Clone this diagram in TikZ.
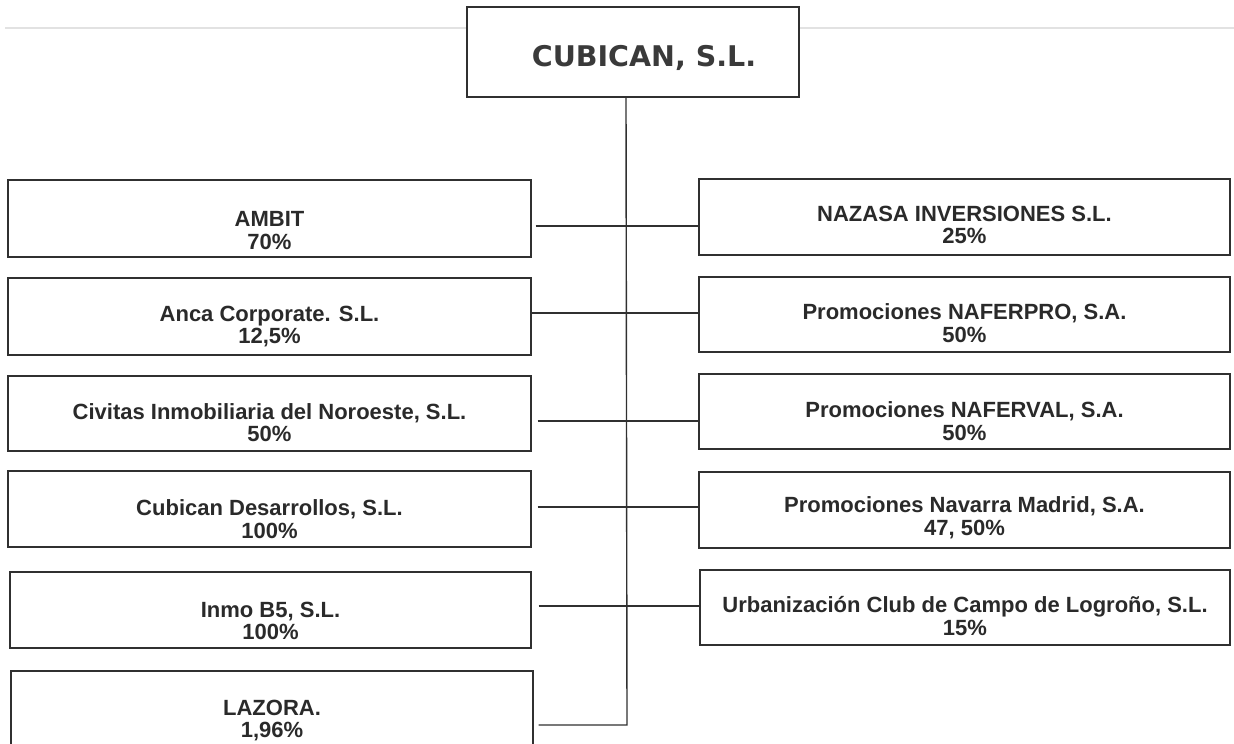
\documentclass[tikz,border=0pt]{standalone}
\usepackage{fontspec}
\setmainfont{Liberation Sans}
\newfontfamily\headfont{DejaVu Sans}
\definecolor{inkc}{HTML}{2A2A2A}
\definecolor{linec}{HTML}{303030}
\definecolor{headc}{HTML}{3A3A3A}
\definecolor{rulec}{HTML}{E2E2E2}
\begin{document}
\begin{tikzpicture}[x=1pt,y=-1pt,
  box/.style={draw=linec, line width=1.4pt, inner sep=0pt, fill=white},
  lbl/.style={align=center, text=inkc, inner sep=0pt, font=\fontsize{22}{22.5}\selectfont\bfseries},
  conn/.style={draw=linec, line width=1.4pt}]
\useasboundingbox (0,0) rectangle (1234,744);
\fill[white] (0,0) rectangle (1234,744);
% faint header rule
\draw[rulec, line width=2pt] (5,28) -- (1234,28);
% top box
\node[box, minimum width=332, minimum height=90] (top) at (633,52) {};
\node[text=headc, inner sep=0pt, font=\headfont\fontsize{28.5}{28.5}\selectfont\bfseries] (toplbl) at (644,58) {CUBICAN, S.L.};
% left boxes
\node[box, minimum width=523, minimum height=77] (L1) at (269.5,218.5) {};
\node[box, minimum width=523, minimum height=77] (L2) at (269.5,316.5) {};
\node[box, minimum width=523, minimum height=75] (L3) at (269.5,413.5) {};
\node[box, minimum width=523, minimum height=76] (L4) at (269.5,509) {};
\node[box, minimum width=521, minimum height=76] (L5) at (270.5,610) {};
\node[box, minimum width=522, minimum height=77] (L6) at (272,709.5) {};
% right boxes
\node[box, minimum width=531, minimum height=76] (R1) at (964.5,217) {};
\node[box, minimum width=531, minimum height=75] (R2) at (964.5,314.5) {};
\node[box, minimum width=531, minimum height=75] (R3) at (964.5,411.5) {};
\node[box, minimum width=531, minimum height=76] (R4) at (964.5,510) {};
\node[box, minimum width=530, minimum height=75] (R5) at (965,607.5) {};
% labels
\node[lbl] (L1t) at ([yshift=-12pt]L1.center) {AMBIT\\70\%};
\node[lbl] (L2t) at ([yshift=-10pt]L2.center) {Anca Corporate. S.L.\\12,5\%};
\node[lbl] (L3t) at ([yshift=-9pt]L3.center) {Civitas Inmobiliaria del Noroeste, S.L.\\50\%};
\node[lbl] (L4t) at ([yshift=-10pt]L4.center) {Cubican Desarrollos, S.L.\\100\%};
\node[lbl] (L5t) at ([yshift=-11pt]L5.center) {Inmo B5, S.L.\\100\%};
\node[lbl] (L6t) at ([yshift=-11pt]L6.center) {LAZORA.\\1,96\%};
\node[lbl] (R1t) at ([yshift=-8pt]R1.center) {NAZASA INVERSIONES S.L.\\25\%};
\node[lbl] (R2t) at ([yshift=-8.5pt]R2.center) {Promociones NAFERPRO, S.A.\\50\%};
\node[lbl] (R3t) at ([yshift=-9.5pt]R3.center) {Promociones NAFERVAL, S.A.\\50\%};
\node[lbl] (R4t) at ([yshift=-7.5pt]R4.center) {Promociones Navarra Madrid, S.A.\\47, 50\%};
\node[lbl] (R5t) at ([yshift=-8.5pt]R5.center) {Urbanización Club de Campo de Logroño, S.L.\\15\%};
% junctions on the trunk
\coordinate (j1) at (626,226);
\coordinate (j2) at (626,313);
\coordinate (j3) at (626,421);
\coordinate (j4) at (626,507);
\coordinate (j5) at (626,606);
\coordinate (j6) at (627,725);
% trunk
\draw[conn] (j1 |- top.south) -- (j6) -- ([xshift=5pt]L6.east |- j6);
% rows
\draw[conn] ([xshift=4pt]L1.east |- j1) -- (R1.west |- j1);
\draw[conn] (L2.east |- j2) -- (R2.west |- j2);
\draw[conn] ([xshift=6pt]L3.east |- j3) -- (R3.west |- j3);
\draw[conn] ([xshift=6pt]L4.east |- j4) -- (R4.west |- j4);
\draw[conn] ([xshift=7pt]L5.east |- j5) -- (R5.west |- j5);
\end{tikzpicture}
\end{document}
